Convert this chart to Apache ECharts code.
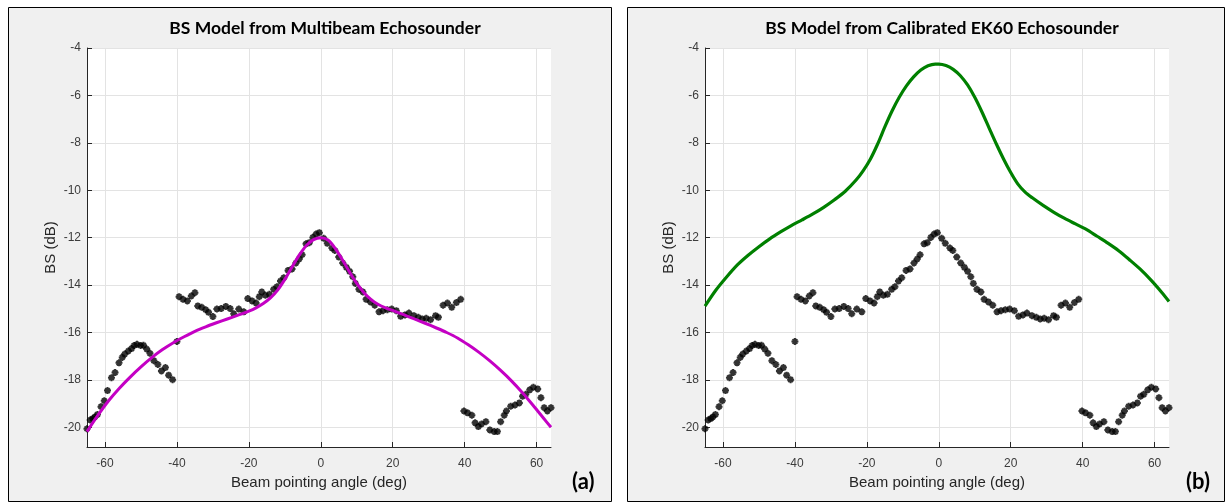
<!DOCTYPE html>
<html>
<head>
<meta charset="utf-8">
<script src="https://cdn.jsdelivr.net/npm/echarts@6/dist/echarts.min.js"></script>
<style>
html,body{margin:0;padding:0;background:#fff;}
#c{width:1226px;height:502px;}
</style>
</head>
<body>
<div id="c"></div>
<script>
// Observed BS (black asterisks), shared by both panels
var obsAngles = [
-65.0,-64.1,-63.4,-62.8,-62.1,-61.1,-60.2,-59.3,-58.2,-57.2,-56.1,-55.2,-54.5,-53.5,-52.6,-51.9,-51.1,-50.1,-49.3,-48.4,-47.5,-46.4,-45.3,-44.3,-43.2,-42.3,-41.2,-40.0,
-39.4,-38.3,-37.1,-36.0,-35.0,-34.2,-33.1,-32.0,-31.2,-30.0,-28.9,-27.7,-26.4,-25.2,-24.2,-22.8,-21.4,-20.3,-19.1,-18.0,-17.1,-16.4,-15.4,-14.3,-13.1,-12.2,-11.2,-10.3,-9.1,-8.0,-6.9,-6.0,-5.2,-4.1,-3.2,-2.2,-1.3,-0.4,
0.8,1.8,3.1,3.9,5.0,6.1,7.1,8.0,8.9,9.6,10.6,11.7,12.6,13.8,15.0,16.2,17.3,18.5,19.7,21.0,22.2,23.4,24.5,25.9,27.1,28.2,29.3,30.5,31.9,32.7,34.0,35.2,36.4,37.7,38.9,
39.8,40.8,42.0,42.9,43.8,44.7,45.9,47.0,48.2,49.1,50.0,51.0,51.6,52.8,54.0,55.2,56.1,57.0,58.1,59.1,60.3,61.2,62.1,63.0,64.0
];
var obsBS = [
-20.06,-19.69,-19.63,-19.56,-19.46,-19.13,-18.88,-18.45,-17.91,-17.69,-17.28,-17.05,-16.91,-16.78,-16.68,-16.55,-16.50,-16.55,-16.54,-16.70,-16.88,-17.19,-17.35,-17.62,-17.48,-17.80,-17.99,-16.38,
-14.49,-14.60,-14.67,-14.46,-14.32,-14.88,-14.94,-15.04,-15.15,-15.33,-15.01,-14.99,-14.90,-14.99,-15.21,-15.01,-15.13,-14.57,-14.67,-14.76,-14.49,-14.29,-14.43,-14.39,-14.18,-14.07,-13.83,-13.69,-13.38,-13.32,-13.07,-12.90,-12.72,-12.26,-12.21,-11.99,-11.85,-11.79,
-12.03,-12.24,-12.44,-12.54,-12.82,-13.07,-13.25,-13.42,-13.65,-13.93,-14.18,-14.29,-14.60,-14.71,-14.85,-15.13,-15.08,-15.04,-15.01,-15.08,-15.32,-15.26,-15.18,-15.29,-15.36,-15.43,-15.40,-15.46,-15.29,-15.36,-14.85,-14.76,-14.94,-14.74,-14.60,
-19.31,-19.39,-19.49,-19.81,-19.97,-19.86,-19.76,-20.11,-20.18,-20.18,-19.76,-19.49,-19.31,-19.11,-19.06,-18.97,-18.69,-18.61,-18.42,-18.31,-18.38,-18.75,-19.17,-19.31,-19.17
];

// Multibeam BS model (magenta)
var mbesAngles = [-65,-62,-59,-56,-53,-50,-47,-44,-41,-38,-35,-32,-29,-26,-23,-20,-18,-16,-14,-12,-10,-8,-6,-4,-2,0,2,4,6,8,10,12,14,16,18,20,23,26,29,32,35,38,41,44,47,50,53,56,59,62,64];
var mbesModel  = [-20.18,-19.50,-18.88,-18.35,-17.88,-17.45,-17.06,-16.72,-16.43,-16.18,-15.95,-15.76,-15.59,-15.43,-15.27,-15.10,-14.96,-14.78,-14.54,-14.21,-13.76,-13.24,-12.74,-12.33,-12.08,-12.00,-12.10,-12.45,-12.93,-13.45,-13.93,-14.32,-14.61,-14.82,-14.96,-15.07,-15.25,-15.43,-15.61,-15.80,-16.00,-16.23,-16.52,-16.84,-17.20,-17.60,-18.04,-18.53,-19.07,-19.63,-20.00];

// EK60 BS model (green)
var ek60Angles = [-65,-62,-59,-56,-53,-50,-47,-44,-41,-38,-35,-32,-29,-26,-23,-21,-19,-17,-15,-13,-11,-9,-7,-5,-3,-1,0,2,4,6,8,10,12,14,16,18,20,22,24,26,29,32,35,38,41,44,47,50,53,56,59,62,64];
var ek60Model  = [-14.89,-14.22,-13.66,-13.15,-12.74,-12.38,-12.05,-11.76,-11.49,-11.25,-11.00,-10.72,-10.40,-10.04,-9.57,-9.17,-8.68,-8.05,-7.33,-6.66,-6.08,-5.60,-5.22,-4.93,-4.75,-4.68,-4.68,-4.74,-4.90,-5.17,-5.56,-6.08,-6.70,-7.38,-8.05,-8.68,-9.25,-9.74,-10.08,-10.32,-10.64,-10.93,-11.19,-11.42,-11.65,-11.94,-12.23,-12.55,-12.93,-13.33,-13.79,-14.31,-14.69];

var xTicks = [-60,-40,-20,0,20,40,60];
var yTicks = [-20,-18,-16,-14,-12,-10,-8,-6,-4];
var titles = ['BS Model from Multibeam Echosounder','BS Model from Calibrated EK60 Echosounder'];
var panelTags = ['(a)','(b)'];

function pairs(xs, ys){ var o=[]; for (var i=0;i<xs.length;i++) o.push([xs[i], ys[i]]); return o; }

var star = 'path://M5 0L5 10M0 5L10 5M1.6 1.6L8.4 8.4M1.6 8.4L8.4 1.6';
var tickFont = {fontFamily:'Liberation Sans', fontSize:12, color:'#3c3c3c'};

function xAxisDef(idx){
  return {
    type:'value', gridIndex:idx, min:-65, max:64,
    name:'Beam pointing angle (deg)', nameLocation:'middle', nameGap:27,
    nameTextStyle:{fontFamily:'Liberation Sans', fontSize:15, color:'#262626'},
    axisLine:{show:true, onZero:false, lineStyle:{color:'#262626', width:1}},
    axisTick:{show:true, inside:true, length:5, customValues:xTicks, lineStyle:{color:'#262626'}},
    axisLabel:Object.assign({margin:11, customValues:xTicks}, tickFont),
    splitLine:{show:true, lineStyle:{color:'#e3e3e3', width:1}}
  };
}
function yAxisDef(idx){
  return {
    type:'value', gridIndex:idx, min:-20.83, max:-4,
    name:'BS (dB)', nameLocation:'middle', nameGap:29,
    nameTextStyle:{fontFamily:'Liberation Sans', fontSize:15, color:'#262626'},
    axisLine:{show:true, onZero:false, lineStyle:{color:'#262626', width:1}},
    axisTick:{show:true, inside:true, length:5, customValues:yTicks, lineStyle:{color:'#262626'}},
    axisLabel:Object.assign({margin:6, customValues:yTicks}, tickFont),
    splitLine:{show:true, lineStyle:{color:'#e3e3e3', width:1}}
  };
}

var chart = echarts.init(document.getElementById('c'), null, {renderer:'canvas'});
chart.setOption({
  backgroundColor:'#ffffff',
  animation:false,
  graphic:[
    {type:'rect', z:-10, shape:{x:8.5,y:7.5,width:603,height:494}, style:{fill:'#f0f0f0', stroke:'#000', lineWidth:1}},
    {type:'rect', z:-10, shape:{x:627.5,y:7.5,width:597,height:494}, style:{fill:'#f0f0f0', stroke:'#000', lineWidth:1}},
    {type:'text', left:572, top:471, style:{text:panelTags[0], font:'bold 22px Lato', fill:'#000'}},
    {type:'text', left:1186, top:471, style:{text:panelTags[1], font:'bold 22px Lato', fill:'#000'}}
  ],
  title:[
    {text:titles[0], left:320, top:14, textAlign:'center', textStyle:{fontFamily:'Lato', fontWeight:'bold', fontSize:17.5, color:'#000'}},
    {text:titles[1], left:937, top:14, textAlign:'center', textStyle:{fontFamily:'Lato', fontWeight:'bold', fontSize:17.5, color:'#000'}}
  ],
  grid:[
    {left:87, top:48, width:464, height:399, show:true, backgroundColor:'#ffffff', borderWidth:0},
    {left:705, top:48, width:464, height:399, show:true, backgroundColor:'#ffffff', borderWidth:0}
  ],
  xAxis:[xAxisDef(0), xAxisDef(1)],
  yAxis:[yAxisDef(0), yAxisDef(1)],
  series:[
    {type:'scatter', xAxisIndex:0, yAxisIndex:0, data:pairs(obsAngles, obsBS), symbol:star, symbolSize:7,
     itemStyle:{color:'none', borderColor:'#000', borderWidth:2}, z:2},
    {type:'line', xAxisIndex:0, yAxisIndex:0, data:pairs(mbesAngles, mbesModel), smooth:0.3, showSymbol:false, symbol:'none',
     lineStyle:{color:'#c400c4', width:3}, z:3},
    {type:'scatter', xAxisIndex:1, yAxisIndex:1, data:pairs(obsAngles, obsBS), symbol:star, symbolSize:7,
     itemStyle:{color:'none', borderColor:'#000', borderWidth:2}, z:2},
    {type:'line', xAxisIndex:1, yAxisIndex:1, data:pairs(ek60Angles, ek60Model), smooth:0.3, showSymbol:false, symbol:'none',
     lineStyle:{color:'#008000', width:3.2}, z:3}
  ]
});
</script>
</body>
</html>
